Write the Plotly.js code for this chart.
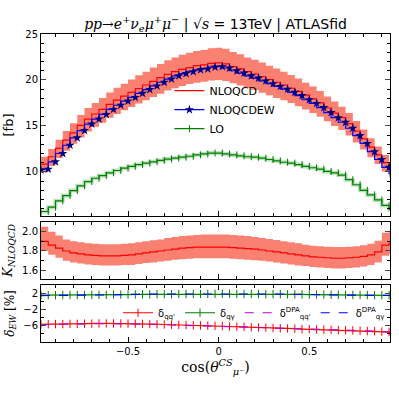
<!DOCTYPE html>
<html>
<head>
<meta charset="utf-8">
<script src="https://cdn.plot.ly/plotly-3.0.1.min.js"></script>
<style>
  html, body { margin: 0; padding: 0; background: #fff; }
  #chart { width: 399px; height: 399px; }
</style>
</head>
<body>
<div id="chart"></div>
<script>
// bin centres of cos(theta_mu-^CS), 0.04 wide
var cosBins = [-0.98,-0.94,-0.90,-0.86,-0.82,-0.78,-0.74,-0.70,-0.66,-0.62,-0.58,-0.54,-0.50,-0.46,-0.42,-0.38,-0.34,-0.30,-0.26,-0.22,-0.18,-0.14,-0.10,-0.06,-0.02,0.02,0.06,0.10,0.14,0.18,0.22,0.26,0.30,0.34,0.38,0.42,0.46,0.50,0.54,0.58,0.62,0.66,0.70,0.74,0.78,0.82,0.86,0.90,0.94,0.98];

// top panel [fb]
var nloqcd = [10.7,10.85,11.65,12.55,13.45,14.25,15.05,15.75,16.3,16.8,17.35,17.8,18.25,18.65,19.05,19.45,19.85,20.25,20.6,20.9,21.15,21.35,21.55,21.65,21.8,21.85,21.75,21.45,21.2,20.9,20.65,20.35,20.05,19.75,19.45,19.1,18.75,18.35,17.95,17.5,16.95,16.4,15.9,15.25,14.45,13.6,12.7,11.85,11.0,10.3];
var nloqcdUp = [11.5,11.65,12.5,13.5,14.45,15.3,16.2,16.95,17.5,18.05,18.65,19.15,19.6,20.05,20.5,20.9,21.35,21.75,22.15,22.45,22.75,22.95,23.15,23.25,23.45,23.5,23.4,23.05,22.8,22.45,22.2,21.9,21.55,21.25,20.9,20.55,20.15,19.7,19.3,18.8,18.2,17.65,17.1,16.4,15.55,14.6,13.65,12.75,11.85,11.1];
var nloqcdDn = [9.8,9.95,10.65,11.5,12.3,13.05,13.75,14.4,14.9,15.35,15.9,16.3,16.7,17.05,17.45,17.8,18.15,18.5,18.85,19.1,19.35,19.55,19.7,19.8,19.95,20.0,19.9,19.65,19.4,19.1,18.9,18.6,18.35,18.05,17.8,17.5,17.15,16.8,16.4,16.0,15.5,15.0,14.55,13.95,13.2,12.45,11.6,10.85,10.05,9.4];
var nloqcdew = [10.2,10.3,11.1,12.0,12.9,13.7,14.5,15.2,15.75,16.25,16.8,17.25,17.7,18.1,18.55,18.95,19.35,19.75,20.1,20.45,20.7,20.9,21.1,21.2,21.4,21.45,21.3,21.0,20.75,20.45,20.2,19.9,19.6,19.3,19.0,18.65,18.3,17.85,17.45,17.0,16.45,15.9,15.4,14.75,13.95,13.1,12.2,11.35,10.5,9.8];
var lo = [5.5,5.69,6.16,6.85,7.43,7.97,8.48,8.95,9.31,9.6,9.9,10.15,10.4,10.6,10.8,10.95,11.1,11.25,11.4,11.5,11.6,11.7,11.85,11.95,12.05,12.05,11.95,11.85,11.75,11.65,11.6,11.5,11.35,11.2,11.05,10.95,10.8,10.6,10.45,10.3,10.05,9.9,9.65,9.15,8.6,8.0,7.5,6.95,6.35,5.9];

// K factor panel
var kNlo = [1.91,1.90,1.86,1.83,1.80,1.78,1.77,1.76,1.755,1.75,1.75,1.75,1.755,1.76,1.77,1.78,1.79,1.80,1.81,1.82,1.83,1.835,1.84,1.84,1.84,1.84,1.84,1.835,1.83,1.825,1.82,1.81,1.80,1.79,1.78,1.77,1.76,1.75,1.74,1.735,1.73,1.725,1.725,1.73,1.735,1.745,1.76,1.79,1.86,1.88];
var kNloUp = [2.06,2.05,2.00,1.96,1.92,1.90,1.89,1.88,1.875,1.87,1.87,1.87,1.875,1.88,1.89,1.90,1.91,1.92,1.935,1.945,1.955,1.96,1.965,1.97,1.97,1.97,1.97,1.965,1.96,1.955,1.945,1.935,1.925,1.915,1.90,1.89,1.88,1.865,1.855,1.85,1.845,1.84,1.84,1.845,1.85,1.86,1.875,1.905,1.99,2.01];
var kNloDn = [1.81,1.80,1.76,1.73,1.70,1.68,1.67,1.66,1.655,1.65,1.65,1.65,1.655,1.655,1.665,1.675,1.68,1.69,1.70,1.71,1.715,1.72,1.725,1.725,1.725,1.725,1.725,1.72,1.715,1.71,1.705,1.70,1.69,1.68,1.67,1.66,1.65,1.645,1.635,1.63,1.625,1.62,1.62,1.625,1.63,1.64,1.655,1.68,1.75,1.77];

// EW corrections [%]
var dQQ = [-5.8,-5.75,-5.7,-5.7,-5.65,-5.65,-5.6,-5.6,-5.55,-5.55,-5.55,-5.55,-5.6,-5.6,-5.65,-5.7,-5.75,-5.8,-5.85,-5.9,-5.95,-6.0,-6.05,-6.1,-6.15,-6.2,-6.3,-6.35,-6.4,-6.5,-6.55,-6.6,-6.7,-6.75,-6.8,-6.85,-6.95,-7.0,-7.05,-7.1,-7.15,-7.2,-7.25,-7.3,-7.35,-7.45,-7.5,-7.6,-7.7,-7.8];
var dQA = [1.55,1.55,1.55,1.6,1.6,1.6,1.6,1.65,1.65,1.65,1.7,1.7,1.7,1.75,1.75,1.75,1.8,1.8,1.8,1.85,1.85,1.85,1.85,1.9,1.9,1.9,1.9,1.85,1.85,1.85,1.85,1.8,1.8,1.8,1.75,1.75,1.75,1.7,1.7,1.7,1.65,1.65,1.65,1.6,1.6,1.6,1.55,1.55,1.55,1.5];
var dQQdpa = [-5.85,-5.8,-5.75,-5.7,-5.7,-5.65,-5.65,-5.6,-5.6,-5.6,-5.6,-5.6,-5.65,-5.65,-5.7,-5.75,-5.8,-5.85,-5.9,-5.95,-6.0,-6.05,-6.1,-6.15,-6.2,-6.25,-6.3,-6.35,-6.4,-6.45,-6.5,-6.55,-6.6,-6.65,-6.75,-6.8,-6.9,-6.95,-7.0,-7.05,-7.1,-7.15,-7.2,-7.3,-7.35,-7.4,-7.5,-7.55,-7.65,-7.75];
var dQAdpa = [1.45,1.45,1.5,1.5,1.5,1.55,1.55,1.6,1.6,1.65,1.65,1.7,1.75,1.75,1.8,1.8,1.85,1.85,1.9,1.9,1.95,1.95,1.95,2.0,2.0,2.0,2.0,1.95,1.95,1.95,1.9,1.9,1.85,1.85,1.8,1.8,1.75,1.75,1.7,1.7,1.65,1.6,1.6,1.55,1.55,1.5,1.5,1.45,1.45,1.45];

var salmon = 'rgb(250,128,114)';
var serif = 'DejaVu Serif';

var traces = [
    // top panel
    {x: cosBins, y: nloqcdUp, mode: 'lines', line: {width: 0, shape: 'vh'},
     showlegend: false, hoverinfo: 'skip'},
    {x: cosBins, y: nloqcdDn, mode: 'lines', line: {width: 0, shape: 'vh'},
     fill: 'tonexty', fillcolor: salmon, showlegend: false, hoverinfo: 'skip'},
    {x: cosBins, y: lo, mode: 'lines', line: {width: 4, shape: 'vh', color: 'rgba(0,128,0,0.25)'},
     showlegend: false, hoverinfo: 'skip'},
    {x: cosBins, y: nloqcd, name: 'NLOQCD', mode: 'lines',
     line: {width: 1.2, shape: 'vh', color: '#ff0000'}},
    {x: cosBins, y: nloqcdew, name: 'NLOQCDEW', mode: 'lines+markers',
     line: {width: 1.2, shape: 'vh', color: '#0000ff'},
     marker: {symbol: 'star', size: 7, color: '#000080'}},
    {x: cosBins, y: lo, name: 'LO', mode: 'lines+markers',
     line: {width: 1.2, shape: 'vh', color: '#008000'},
     marker: {symbol: 'line-ns-open', size: 5, color: '#008000', line: {width: 1, color: '#008000'}}},

    // K factor panel
    {x: cosBins, y: kNloUp, xaxis: 'x2', yaxis: 'y2', mode: 'lines',
     line: {width: 0, shape: 'vh'}, showlegend: false, hoverinfo: 'skip'},
    {x: cosBins, y: kNloDn, xaxis: 'x2', yaxis: 'y2', mode: 'lines',
     line: {width: 0, shape: 'vh'}, fill: 'tonexty', fillcolor: salmon,
     showlegend: false, hoverinfo: 'skip'},
    {x: cosBins, y: kNlo, xaxis: 'x2', yaxis: 'y2', mode: 'lines',
     line: {width: 1.2, shape: 'vh', color: '#ff0000'}, showlegend: false},

    // EW panel
    {x: cosBins, y: dQQ, xaxis: 'x3', yaxis: 'y3', legend: 'legend2', name: 'δ<sub>qq\'</sub>',
     mode: 'lines+markers', line: {width: 1.2, color: '#ff0000'},
     marker: {symbol: 'line-ns-open', size: 6, line: {width: 1, color: 'rgba(255,0,0,0.45)'}}},
    {x: cosBins, y: dQA, xaxis: 'x3', yaxis: 'y3', legend: 'legend2', name: 'δ<sub>qγ</sub>',
     mode: 'lines+markers', line: {width: 1.2, color: '#008000'},
     marker: {symbol: 'line-ns-open', size: 6, line: {width: 1, color: 'rgba(0,128,0,0.45)'}}},
    {x: cosBins, y: dQQdpa, xaxis: 'x3', yaxis: 'y3', legend: 'legend2', name: 'δ<sup>DPA</sup><sub>qq\'</sub>',
     mode: 'lines', line: {width: 1.2, color: '#bf00bf', dash: 'dash'}},
    {x: cosBins, y: dQAdpa, xaxis: 'x3', yaxis: 'y3', legend: 'legend2', name: 'δ<sup>DPA</sup><sub>qγ</sub>',
     mode: 'lines', line: {width: 1.2, color: '#0000ff', dash: 'dash'}}
];

function xAxis(anchor, labels) {
    return {
        anchor: anchor, domain: [0, 1], range: [-0.98, 0.945],
        dtick: 0.5, tick0: 0, ticks: 'inside', ticklen: 5, tickcolor: '#000',
        showline: true, linecolor: '#000', linewidth: 1, mirror: 'ticks',
        showgrid: false, zeroline: false, showticklabels: labels,
        minor: {dtick: 0.1, tick0: 0, ticks: 'inside', ticklen: 3, tickcolor: '#000'}
    };
}

var layout = {
    width: 399, height: 399,
    margin: {l: 41, r: 9, t: 34, b: 57, autoexpand: false},
    paper_bgcolor: '#fff', plot_bgcolor: '#fff',
    font: {family: 'DejaVu Sans', size: 10, color: '#000'},
    title: {
        text: '<span style="font-family:DejaVu Serif"><i>pp</i>→<i>e</i><sup>+</sup><i>ν</i><sub><i>e</i></sub><i>μ</i><sup>+</sup><i>μ</i><sup>−</sup></span> | <span style="font-family:DejaVu Serif">√<i>s</i> = </span>13TeV | ATLASfid',
        font: {size: 14, color: '#000'},
        xref: 'paper', x: 0.5, xanchor: 'center',
        yref: 'container', y: 0.94, yanchor: 'middle'
    },
    xaxis: xAxis('y', false),
    xaxis2: xAxis('y2', false),
    xaxis3: Object.assign(xAxis('y3', true), {
        title: {text: 'cos(<i>θ</i><sup><i>CS</i></sup><sub><i>μ</i>⁻</sub>)', font: {family: serif, size: 14}, standoff: 6}
    }),
    yaxis: {
        domain: [0.409, 1], anchor: 'x', range: [5.2, 25], dtick: 5, tick0: 0,
        ticks: 'inside', ticklen: 5, showline: true, linecolor: '#000', mirror: 'ticks',
        showgrid: false, zeroline: false,
        minor: {dtick: 1, tick0: 0, ticks: 'inside', ticklen: 3, tickcolor: '#000'},
        title: {text: '[fb]', font: {size: 13}, standoff: 8}
    },
    yaxis2: {
        domain: [0.2045, 0.3896], anchor: 'x2', range: [1.51, 2.10], dtick: 0.2, tick0: 0,
        tickformat: '.1f',
        ticks: 'inside', ticklen: 5, showline: true, linecolor: '#000', mirror: 'ticks',
        showgrid: false, zeroline: false,
        minor: {dtick: 0.1, tick0: 0, ticks: 'inside', ticklen: 3, tickcolor: '#000'},
        title: {text: '<i>K</i><sub><i>NLOQCD</i></sub>', font: {family: serif, size: 13}, standoff: 6}
    },
    yaxis3: {
        domain: [0, 0.185], anchor: 'x3', range: [-10.2, 4.1],
        tickvals: [2, -2, -6],
        ticks: 'inside', ticklen: 5, showline: true, linecolor: '#000', mirror: 'ticks',
        showgrid: false, zeroline: false,
        minor: {tickvals: [0, -4, -8], ticks: 'inside', ticklen: 3, tickcolor: '#000'},
        title: {text: '<i>δ</i><sub><i>EW</i></sub> [%]', font: {family: serif, size: 12}, standoff: 6}
    },
    legend: {
        x: 0.368, y: 0.863, xanchor: 'left', yanchor: 'top', traceorder: 'normal',
        bgcolor: 'rgba(0,0,0,0)', font: {size: 11}
    },
    legend2: {
        orientation: 'h', x: 1.0, y: 0.095, xanchor: 'right', yanchor: 'middle', traceorder: 'normal',
        bgcolor: 'rgba(0,0,0,0)', font: {size: 10}
    }
};

Plotly.newPlot('chart', traces, layout, {staticPlot: true, displayModeBar: false});
</script>
</body>
</html>
